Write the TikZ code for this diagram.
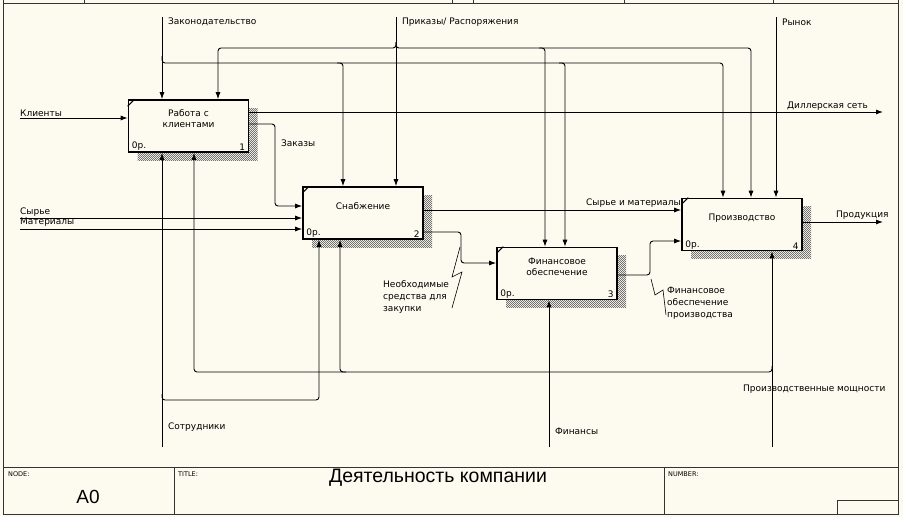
\documentclass[tikz,border=0pt]{standalone}
\usepackage{fontspec}
\setmainfont{DejaVu Sans}
\newfontfamily\titlefont{Liberation Sans}
\usetikzlibrary{arrows.meta,patterns,shadows}
\definecolor{bgc}{RGB}{253,251,240}
\def\boxtext#1{\raisebox{6pt}[\height][\depth]{\begin{tabular}{@{}c@{}}#1\end{tabular}}}
\pgfdeclarepatternformonly{fine checker}{\pgfpointorigin}{\pgfpoint{2.4pt}{2.4pt}}{\pgfpoint{2.4pt}{2.4pt}}{%
	\pgfpathrectangle{\pgfpointorigin}{\pgfpoint{1.2pt}{1.2pt}}%
	\pgfpathrectangle{\pgfpoint{1.2pt}{1.2pt}}{\pgfpoint{1.2pt}{1.2pt}}%
	\pgfusepath{fill}}

\tikzset{
  func/.style={draw, line width=1.6pt, fill=bgc, minimum width=120pt, minimum height=52pt,
    inner sep=0pt, font=\fontsize{9}{10.8}\selectfont,
    general shadow={shadow xshift=9pt, shadow yshift=-8pt, pattern=fine checker, pattern color=black!55}},
  corner/.style={inner xsep=4pt, inner ysep=2pt, font=\fontsize{9}{9}\selectfont},
  arr/.style={line width=0.9pt, rounded corners=3pt, -{Latex[length=7pt,width=5pt]}},
  lbl/.style={anchor=west, inner sep=0pt, font=\fontsize{9}{12.2}\selectfont, align=left},
  small/.style={anchor=west, inner sep=0pt, font=\fontsize{6.5}{7}\selectfont},
  frame/.style={line width=1pt, black!80},
}

\begin{document}
\begin{tikzpicture}[x=1pt, y=-1pt]
			%%%%% START %%%%%
			
			\useasboundingbox (0,0) rectangle (903,517);
			\fill[bgc] (0,0) rectangle (903,517);
			
			% frame and title block
			\draw[frame] (3,0) -- (3,514) -- (898,514) -- (898,0);
			\draw[frame] (3,3) -- (898,3);
			\foreach \x in {84,452,473,624,773}
				\draw[frame] (\x,0) -- (\x,3);
			\draw[frame] (3,467) -- (898,467);
			\draw[frame] (174,467) -- (174,514);
			\draw[frame] (664,467) -- (664,514);
			\draw[frame] (837,514) -- (837,500) -- (898,500);
			
			\node[small] (lnode) at (8,474) {NODE:};
			\node[small] (ltitle) at (178,474) {TITLE:};
			\node[small] (lnumber) at (668,474) {NUMBER:};
			\node[font=\titlefont\fontsize{19}{22}\selectfont, inner sep=0pt] (nodeno) at (88,497) {A0};
			\node[font=\titlefont\fontsize{19.5}{22}\selectfont, inner sep=0pt] (title) at (438,478) {Деятельность компании};
			
			% functions
			\node[func, label={[corner, anchor=south west]south west:0р.}, label={[corner, anchor=south east]south east:1}]
				(b1) at (188.5,126) {\boxtext{Работа с\\клиентами}};
			\node[func, label={[corner, anchor=south west]south west:0р.}, label={[corner, anchor=south east]south east:2}]
				(b2) at (363,213) {\boxtext{Снабжение}};
			\node[func, label={[corner, anchor=south west]south west:0р.}, label={[corner, anchor=south east]south east:3}]
				(b3) at (557,273.5) {\boxtext{Финансовое\\обеспечение}};
			\node[func, label={[corner, anchor=south west]south west:0р.}, label={[corner, anchor=south east]south east:4}]
				(b4) at (742,224.5) {\boxtext{Производство}};
			\foreach \b in {b1,b2,b3,b4}
				\draw[line width=1pt] ([yshift=-7pt]\b.north west) -- ([xshift=7pt]\b.north west);
			
			% free ends
			\coordinate (zak) at (162,17);
			\coordinate (prik) at (396,17);
			\coordinate (rynok) at (776,17);
			\coordinate (klient) at (20,118);
			\coordinate (syr) at (20,218);
			\coordinate (mat) at (20,229);
			\coordinate (diller) at (883,112);
			\coordinate (prod) at (883,222);
			\coordinate (sotr) at (162,447);
			\coordinate (fin) at (549,447);
			\coordinate (mosh) at (772,447);
			
			% controls
			\draw[arr] (zak) -- (zak |- b1.north);
			\draw[arr] (162,56) -- (162,63) -- (723,63) -- (b4.north -| 723,0);
			\draw[arr] (337,63) -- (343,63) -- (b2.north -| 343,0);
			\draw[arr] (559,63) -- (565,63) -- (b3.north -| 565,0);
			
			\draw[arr] (prik) -- (prik |- b2.north);
			\draw[arr] (396,42) -- (396,48) -- (218,48) -- (b1.north -| 218,0);
			\draw[arr] (396,42) -- (396,48) -- (751,48) -- (b4.north -| 751,0);
			\draw[arr] (539,48) -- (545,48) -- (b3.north -| 545,0);
			
			\draw[arr] (rynok) -- (rynok |- b4.north);
			
			% inputs and outputs
			\draw[arr] (klient) -- (klient -| b1.west);
			\draw[arr] (b1.east |- diller) -- (diller);
			\draw[arr] (b1.east |- 0,124) -- (275,124) -- (275,206) -- (b2.west |- 0,206);
			\draw[arr] (syr) -- (syr -| b2.west);
			\draw[arr] (mat) -- (mat -| b2.west);
			\draw[arr] (b2.east |- 0,210) -- (b4.west |- 0,210);
			\draw[arr] (b2.east |- 0,232) -- (461,232) -- (461,263) -- (b3.west |- 0,263);
			\draw[arr] (b3.east |- 0,275) -- (650,275) -- (650,241) -- (b4.west |- 0,241);
			\draw[arr] (b4.east |- prod) -- (prod);
			
			% mechanisms
			\draw[arr] (sotr) -- (sotr |- b1.south);
			\draw[arr] (162,394) -- (162,400) -- (319,400) -- (b2.south -| 319,0);
			\draw[arr] (mosh) -- (mosh |- b4.south);
			\draw[arr] (772,366) -- (772,372) -- (194,372) -- (b1.south -| 194,0);
			\draw[arr] (346,372) -- (340,372) -- (b2.south -| 340,0);
			\draw[arr] (fin) -- (fin |- b3.south);
			
			% squiggles
			\draw[line width=0.6pt] (460,247) -- (452,277) -- (462,272) -- (452,308);
			\draw[line width=0.6pt] (651,279) -- (655,295) -- (663,290) -- (666,315);
			
			% labels
			\node[lbl] (lzak) at (168,22) {Законодательство};
			\node[lbl] (lprik) at (402,22) {Приказы/ Распоряжения};
			\node[lbl] (lrynok) at (782,22) {Рынок};
			\node[lbl] (lklient) at (20,113) {Клиенты};
			\node[lbl] (ldiller) at (787,106) {Диллерская сеть};
			\node[lbl] (lzakaz) at (281,143) {Заказы};
			\node[lbl] (lsyr) at (20,212) {Сырье};
			\node[lbl] (lmat) at (20,222) {Материалы};
			\node[lbl] (lsyrmat) at (586,203) {Сырье и материалы};
			\node[lbl] (lsredstva) at (383,297) {Необходимые\\средства для\\закупки};
			\node[lbl] (lfinobesp) at (667,303) {Финансовое\\обеспечение\\производства};
			\node[lbl] (lprod) at (836,215) {Продукция};
			\node[lbl] (lsotr) at (168,427) {Сотрудники};
			\node[lbl] (lfin) at (555,431) {Финансы};
			\node[lbl] (lmosh) at (743,389) {Производственные мощности};
			
			%%%%% END %%%%%
\end{tikzpicture}
\end{document}
